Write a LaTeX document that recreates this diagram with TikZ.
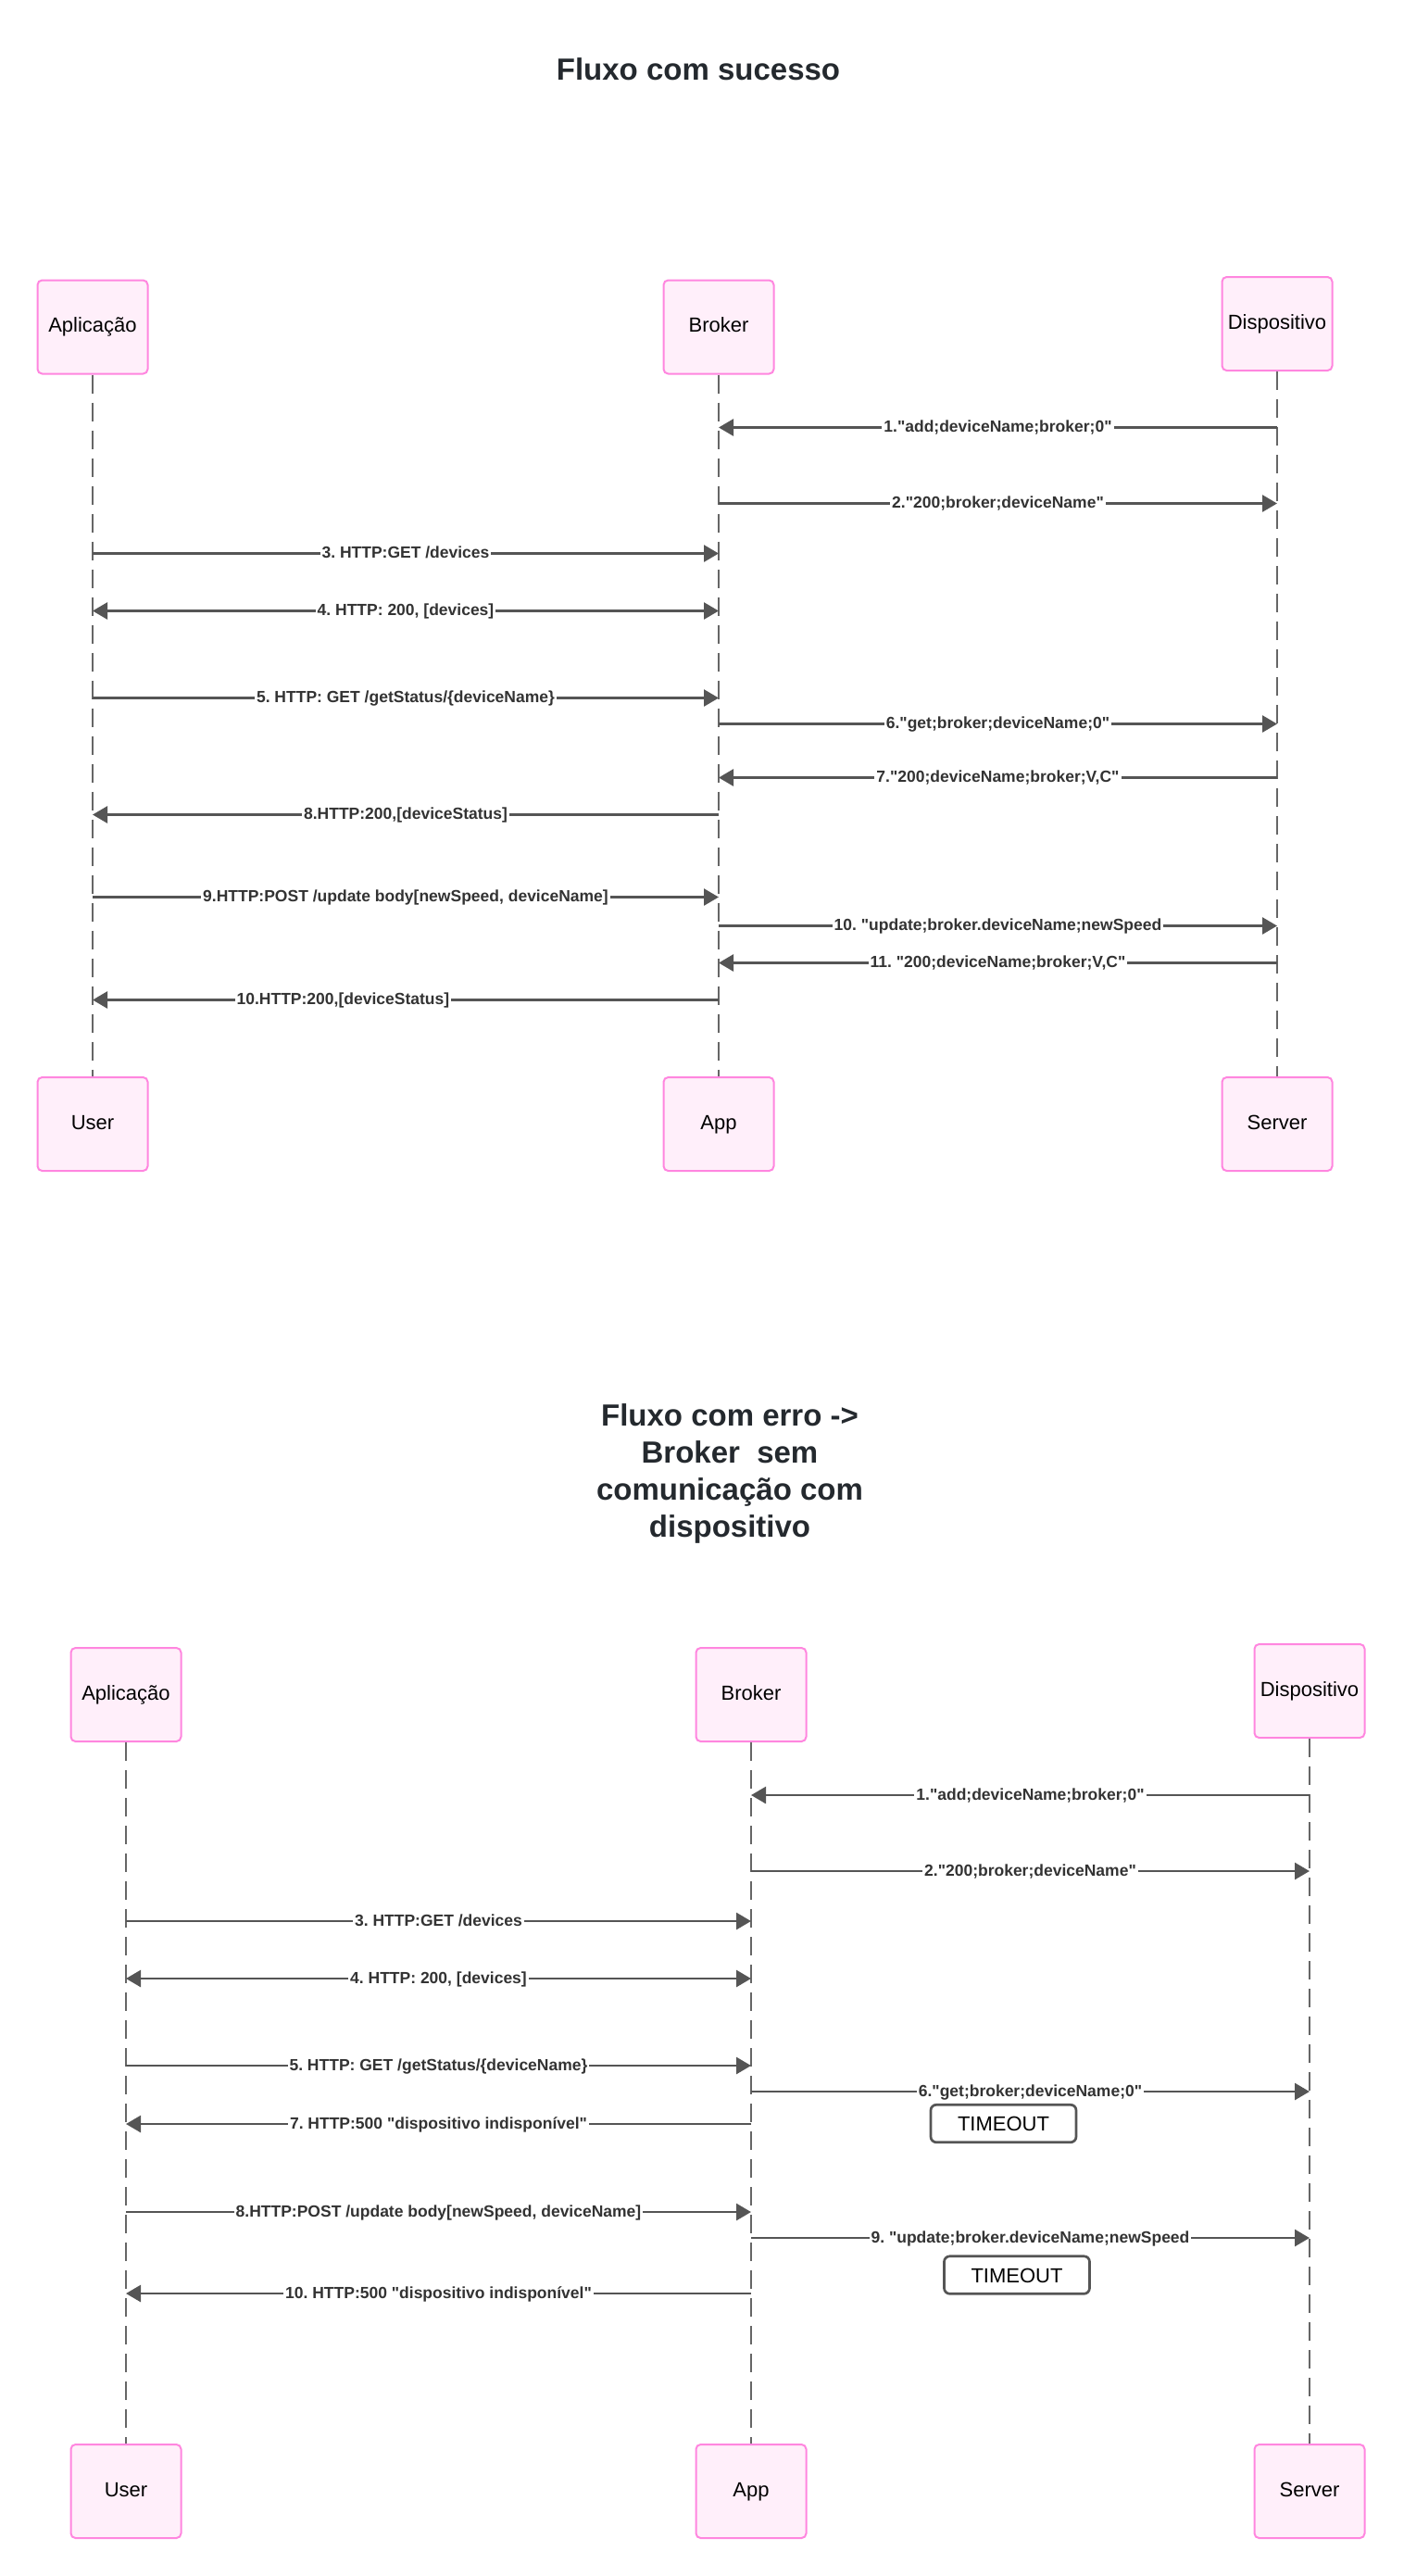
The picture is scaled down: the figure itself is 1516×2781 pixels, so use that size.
\documentclass[tikz,border=0pt]{standalone}
\usepackage{fontspec}
\setmainfont{Liberation Sans}[Ligatures=TeXOff]
\usetikzlibrary{arrows.meta}
\frenchspacing
\definecolor{ActorFill}{HTML}{FFEFFA}
\definecolor{ActorLine}{HTML}{FF86DF}
\definecolor{MsgGray}{HTML}{555555}
\definecolor{LifeGray}{HTML}{666666}
\definecolor{TitleGray}{HTML}{24292E}
\tikzset{
  actor/.style={draw=ActorLine,fill=ActorFill,line width=1pt,rounded corners=2.5pt,
    minimum width=59.5pt,minimum height=50.5pt,inner sep=0pt,text height=8pt,text depth=2.5pt,
    font=\fontsize{11}{13}\selectfont},
  lifeline/.style={draw=LifeGray,line width=1pt,dash pattern=on 10pt off 5pt},
  msg/.style={draw=MsgGray,line width=1.35pt,-{Triangle[length=8pt,width=9pt]}},
  msgboth/.style={msg,{Triangle[length=8pt,width=9pt]}-{Triangle[length=8pt,width=9pt]}},
  lbl/.style={fill=white,inner sep=1pt,text=black!80,text height=7pt,text depth=2pt,
    font=\fontsize{8.75}{10}\selectfont\bfseries},
  timeout/.style={draw=MsgGray,line width=1.35pt,rounded corners=3pt,fill=white,
    minimum width=78.5pt,minimum height=20.25pt,text height=8pt,text depth=0pt,
    font=\fontsize{11}{13}\selectfont},
  titulo/.style={text=TitleGray,align=center,font=\fontsize{16.5}{20}\selectfont\bfseries}
}
\begin{document}
\begin{tikzpicture}[x=0.5pt,y=-0.5pt]
			\useasboundingbox (0,0) rectangle (1516,2781);
			% \draw[help lines,step=100] (0,0) grid (1516,2781);

			% Fluxo com sucesso
			\node[titulo] (t1) at (754,75) {Fluxo com sucesso};
			\node[actor] (sapl) at (100,353) {Aplicação};
			\node[actor] (sbrk) at (776,353) {Broker};
			\node[actor] (sdsp) at (1379,349.5) {Dispositivo};
			\node[actor] (suser) at (100,1213.5) {User};
			\node[actor] (sapp) at (776,1213.5) {App};
			\node[actor] (ssrv) at (1379,1213.5) {Server};
			\draw[lifeline] (sapl) -- (suser);
			\draw[lifeline] (sbrk) -- (sapp);
			\draw[lifeline] (sdsp) -- (ssrv);
			\foreach \n/\y in {1/461.5,2/543.5,3/597.5,4/659.5,5/753.5,6/781.5,
				7/839.5,8/879.5,9/968.5,10/999.5,11/1039.5,12/1079.5}{
				\coordinate (sa\n) at (100,\y);
				\coordinate (sb\n) at (776,\y);
				\coordinate (sd\n) at (1379,\y);
			}
			\draw[msg] (sd1) -- node[lbl] {1."add;deviceName;broker;0"} (sb1);
			\draw[msg] (sb2) -- node[lbl] {2."200;broker;deviceName"} (sd2);
			\draw[msg] (sa3) -- node[lbl] {3. HTTP:GET /devices} (sb3);
			\draw[msgboth] (sa4) -- node[lbl] {4. HTTP: 200, [devices]} (sb4);
			\draw[msg] (sa5) -- node[lbl] {5. HTTP: GET /getStatus/\{deviceName\}} (sb5);
			\draw[msg] (sb6) -- node[lbl] {6."get;broker;deviceName;0"} (sd6);
			\draw[msg] (sd7) -- node[lbl] {7."200;deviceName;broker;V,C"} (sb7);
			\draw[msg] (sb8) -- node[lbl] {8.HTTP:200,[deviceStatus]} (sa8);
			\draw[msg] (sa9) -- node[lbl] {9.HTTP:POST /update body[newSpeed, deviceName]} (sb9);
			\draw[msg] (sb10) -- node[lbl] {10. "update;broker.deviceName;newSpeed} (sd10);
			\draw[msg] (sd11) -- node[lbl] {11. "200;deviceName;broker;V,C"} (sb11);
			\draw[msg] (sb12) -- node[lbl,pos=.6] {10.HTTP:200,[deviceStatus]} (sa12);

			% Fluxo com erro
			\node[titulo] (t2) at (788,1591) {Fluxo com erro ->\\Broker\ \ sem\\comunicação com\\dispositivo};
			\node[actor] (eapl) at (136,1829.5) {Aplicação};
			\node[actor] (ebrk) at (811,1829.5) {Broker};
			\node[actor] (edsp) at (1414,1825.5) {Dispositivo};
			\node[actor] (euser) at (136,2689.5) {User};
			\node[actor] (eapp) at (811,2689.5) {App};
			\node[actor] (esrv) at (1414,2689.5) {Server};
			\draw[lifeline] (eapl) -- (euser);
			\draw[lifeline] (ebrk) -- (eapp);
			\draw[lifeline] (edsp) -- (esrv);
			\foreach \n/\y in {1/1938,2/2020,3/2074,4/2136,5/2230,6/2258,
				7/2293,8/2388,9/2416,10/2476}{
				\coordinate (ea\n) at (136,\y);
				\coordinate (eb\n) at (811,\y);
				\coordinate (ed\n) at (1414,\y);
			}
			\draw[msg] (ed1) -- node[lbl] {1."add;deviceName;broker;0"} (eb1);
			\draw[msg] (eb2) -- node[lbl] {2."200;broker;deviceName"} (ed2);
			\draw[msg] (ea3) -- node[lbl] {3. HTTP:GET /devices} (eb3);
			\draw[msgboth] (ea4) -- node[lbl] {4. HTTP: 200, [devices]} (eb4);
			\draw[msg] (ea5) -- node[lbl] {5. HTTP: GET /getStatus/\{deviceName\}} (eb5);
			\draw[msg] (eb6) -- node[lbl] {6."get;broker;deviceName;0"} (ed6);
			\draw[msg] (eb7) -- node[lbl] {7. HTTP:500 "dispositivo indisponível"} (ea7);
			\draw[msg] (ea8) -- node[lbl] {8.HTTP:POST /update body[newSpeed, deviceName]} (eb8);
			\draw[msg] (eb9) -- node[lbl] {9. "update;broker.deviceName;newSpeed} (ed9);
			\draw[msg] (eb10) -- node[lbl] {10. HTTP:500 "dispositivo indisponível"} (ea10);
			\node[timeout] (to1) at (1083.5,2292.5) {TIMEOUT};
			\node[timeout] (to2) at (1098,2456) {TIMEOUT};
\end{tikzpicture}
\end{document}
